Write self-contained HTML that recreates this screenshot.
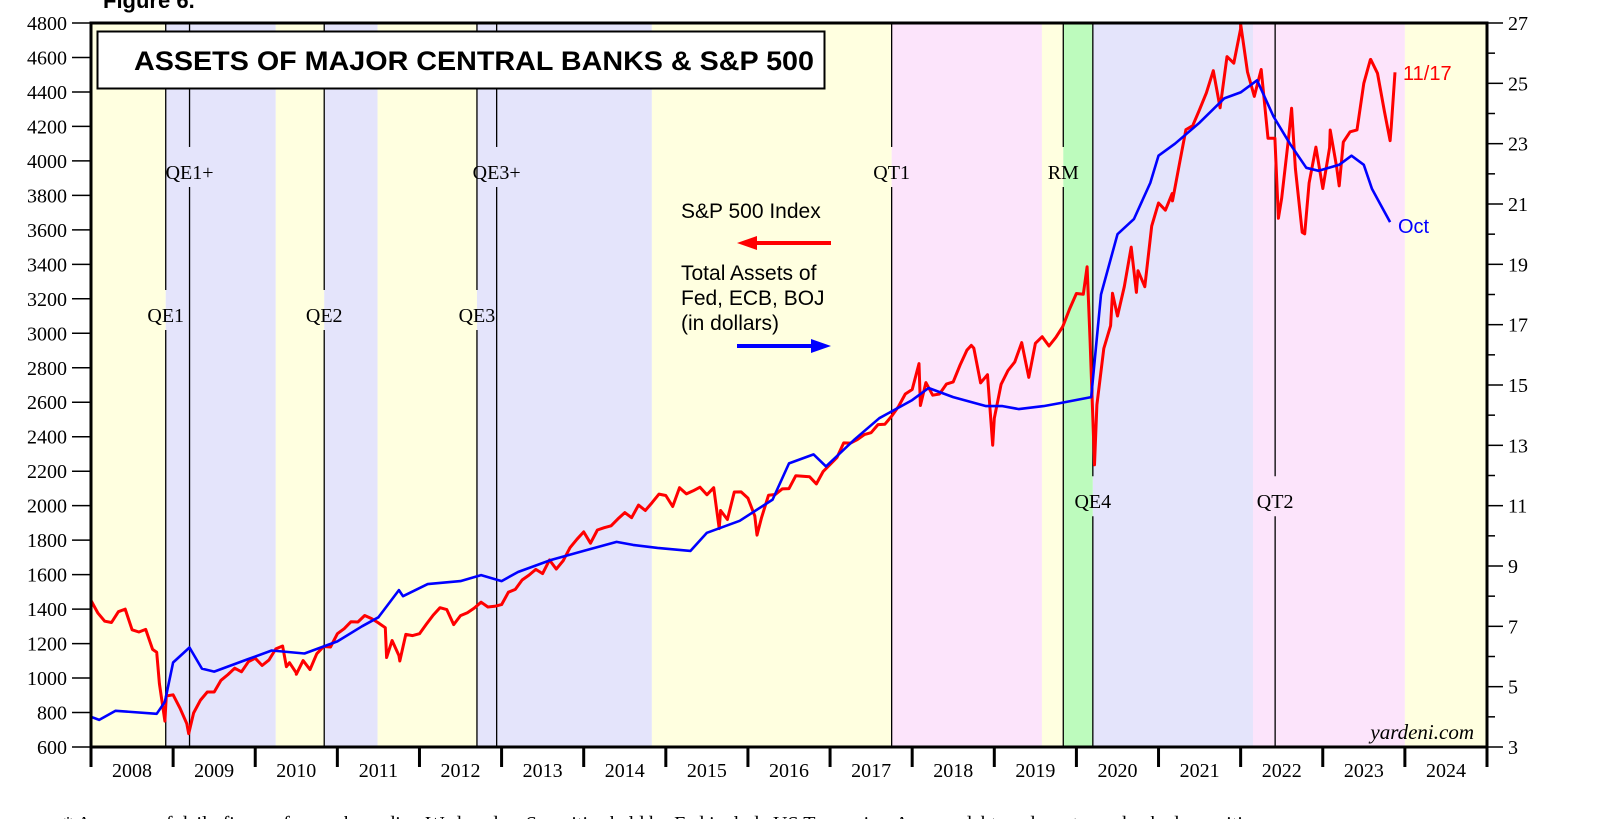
<!DOCTYPE html>
<html><head><meta charset="utf-8">
<style>
html,body{margin:0;padding:0;background:#fff;width:1600px;height:819px;overflow:hidden}
svg{display:block}
.serif{font-family:"Liberation Serif",serif}
.sans{font-family:"Liberation Sans",sans-serif}
</style></head>
<body>
<svg id="chart" width="1600" height="819" viewBox="0 0 1600 819">
<g id="bands"></g>
<g id="vlines"></g>
<g id="plabels"></g>
<g id="series"></g>
<g id="axes"></g>
<text x="103" y="8" class="sans" font-size="22" font-weight="bold">Figure 6.</text>
<rect x="97.5" y="31.5" width="727" height="57" fill="#fff" stroke="#000" stroke-width="2"/>
<text x="134" y="70" class="sans" font-size="27" font-weight="bold" textLength="680" lengthAdjust="spacingAndGlyphs">ASSETS OF MAJOR CENTRAL BANKS &amp; S&amp;P 500</text>
<g>
<text x="681" y="218" class="sans" font-size="21">S&amp;P 500 Index</text>
<line x1="831" y1="243" x2="752" y2="243" stroke="#f00" stroke-width="4"/>
<polygon points="737,243 757,236 757,250" fill="#f00"/>
<text x="681" y="280" class="sans" font-size="21">Total Assets of</text>
<text x="681" y="305" class="sans" font-size="21">Fed, ECB, BOJ</text>
<text x="681" y="330" class="sans" font-size="21">(in dollars)</text>
<line x1="737" y1="346" x2="816" y2="346" stroke="#00f" stroke-width="4"/>
<polygon points="831,346 811,339 811,353" fill="#00f"/>
</g>
<text x="1403" y="80" class="sans" font-size="20" fill="#f00">11/17</text>
<text x="1398" y="233" class="sans" font-size="20" fill="#00f">Oct</text>
<text x="1474" y="739" text-anchor="end" class="serif" font-size="21" font-style="italic">yardeni.com</text>
<text x="63" y="830" class="serif" font-size="20">*   Averages of daily figures for weeks ending Wednesday. Securities held by Fed include US Treasuries, Agency debt, and mortgage-backed securities.</text>
</svg>
<script>
// ---- data ----
const bandStarts = [2008, 2008.91, 2010.25, 2010.84, 2011.49, 2012.70, 2014.83, 2017.75, 2019.58, 2019.84, 2020.20, 2022.15, 2024.0];
const bandEnds   = [2008.91, 2010.25, 2010.84, 2011.49, 2012.70, 2014.83, 2017.75, 2019.58, 2019.84, 2020.20, 2022.15, 2024.0, 2025];
const bandKinds  = ['y','l','y','l','y','l','y','p','y','g','l','p','y'];
const policyNames = ['QE1','QE1+','QE2','QE3','QE3+','QT1','RM','QE4','QT2'];
const policyDates = [2008.91, 2009.20, 2010.84, 2012.70, 2012.94, 2017.75, 2019.84, 2020.20, 2022.42];
const policyLabelVals = [3100, 3930, 3100, 3100, 3930, 3930, 3930, 2020, 2020];
const leftTicks = [600,800,1000,1200,1400,1600,1800,2000,2200,2400,2600,2800,3000,3200,3400,3600,3800,4000,4200,4400,4600,4800];
const rightTicks = [3,5,7,9,11,13,15,17,19,21,23,25,27];
const yearLabels = ['2008','2009','2010','2011','2012','2013','2014','2015','2016','2017','2018','2019','2020','2021','2022','2023','2024'];
const spMonthly = [
1378,1330,1322,1385,1400,1280,1267,1282,1166,968,896,903,
825,735,797,872,919,919,987,1020,1057,1036,1095,1115,
1073,1104,1169,1186,1089,1030,1101,1049,1141,1183,1180,1257,
1286,1327,1325,1363,1345,1320,1292,1218,1131,1253,1246,1257,
1312,1365,1408,1397,1310,1362,1379,1406,1440,1412,1416,1426,
1498,1514,1569,1597,1630,1606,1685,1632,1681,1756,1805,1848,
1782,1859,1872,1883,1923,1960,1930,2003,1972,2018,2067,2059,
1995,2104,2068,2086,2107,2063,2104,1972,1920,2079,2080,2044,
1940,1932,2060,2065,2097,2099,2174,2171,2168,2126,2199,2239,
2279,2364,2363,2384,2412,2423,2470,2472,2519,2575,2648,2674,
2824,2714,2641,2648,2705,2718,2816,2902,2914,2712,2760,2507,
2704,2784,2834,2946,2752,2942,2980,2926,2977,3038,3141,3231,
3226,2954,2585,2912,3044,3100,3271,3500,3363,3270,3622,3756,
3714,3811,3973,4181,4204,4298,4395,4523,4308,4605,4567,4766,
4516,4374,4530,4132,4132,3785,4130,3955,3586,3872,4080,3840,
4077,3970,4109,4169,4180,4450,4589,4508,4288,4194,4514];
const spExtraDates = [2008.0, 2008.8, 2008.9, 2009.19, 2010.38, 2010.5, 2011.6, 2011.76, 2015.65, 2016.11, 2018.1, 2018.72, 2018.98, 2019.42, 2020.13, 2020.22, 2020.44, 2020.73, 2021.17, 2022.0, 2022.46, 2022.62, 2022.78, 2023.09, 2023.2, 2023.58, 2023.82];
const spExtraVals  = [1450, 1150, 750, 677, 1066, 1022, 1119, 1099, 1867, 1829, 2581, 2930, 2351, 2744, 3386, 2237, 3232, 3237, 3768, 4796, 3667, 4305, 3577, 4179, 3855, 4588, 4117];
const assetDates = [2008.0,2008.1,2008.3,2008.8,2008.9,2009.0,2009.2,2009.35,2009.5,2009.9,2010.2,2010.6,2011.0,2011.3,2011.5,2011.75,2011.8,2012.1,2012.5,2012.75,2013.0,2013.2,2013.6,2014.0,2014.4,2014.6,2014.9,2015.3,2015.5,2015.9,2016.3,2016.5,2016.8,2016.95,2017.3,2017.6,2018.0,2018.2,2018.5,2018.9,2019.1,2019.3,2019.6,2019.8,2020.18,2020.3,2020.5,2020.7,2020.9,2021.0,2021.2,2021.5,2021.8,2022.0,2022.2,2022.4,2022.6,2022.8,2022.95,2023.2,2023.35,2023.5,2023.6,2023.7,2023.82];
const assetVals  = [4.0,3.9,4.2,4.1,4.5,5.8,6.3,5.6,5.5,5.9,6.2,6.1,6.5,7.0,7.3,8.2,8.0,8.4,8.5,8.7,8.5,8.8,9.2,9.5,9.8,9.7,9.6,9.5,10.1,10.5,11.2,12.4,12.7,12.3,13.2,13.9,14.5,14.9,14.6,14.3,14.3,14.2,14.3,14.4,14.6,18.0,20.0,20.5,21.7,22.6,23.0,23.7,24.5,24.7,25.1,23.9,23.0,22.2,22.1,22.3,22.6,22.3,21.5,21.0,20.4];

// ---- scales ----
const X0=91, X1=1487, Y0=23, Y1=747;
const xs = t => X0 + (t-2008)/17*(X1-X0);
const yl = v => Y1 - (v-600)/4200*(Y1-Y0);
const yr = v => Y1 - (v-3)/24*(Y1-Y0);
const NS='http://www.w3.org/2000/svg';
function mk(tag, attrs, parent){const e=document.createElementNS(NS,tag);for(const k in attrs)e.setAttribute(k,attrs[k]);parent.appendChild(e);return e;}
const colors={y:'#ffffe0',l:'#e4e4fb',p:'#fce4fb',g:'#bdfbbd'};

const gB=document.getElementById('bands');
bandStarts.forEach((s,i)=>{
  const r=mk('rect',{x:xs(s),y:Y0,width:Math.min(xs(bandEnds[i]),X1)-xs(s),height:Y1-Y0,fill:colors[bandKinds[i]]},gB);
  
  
});

const gV=document.getElementById('vlines'), gP=document.getElementById('plabels');
policyNames.forEach((n,i)=>{
  const x=xs(policyDates[i]), ly=yl(policyLabelVals[i]);
  const l1=mk('line',{x1:x,y1:Y0,x2:x,y2:ly-26,stroke:'#000','stroke-width':1.3},gV);
  
  
  const l2=mk('line',{x1:x,y1:ly+14,x2:x,y2:Y1,stroke:'#000','stroke-width':1.3},gV);
  
  
  const t=mk('text',{x:x,y:ly+6,'text-anchor':'middle','font-size':20,class:'serif'},gP);
  t.textContent=n;
  
  
});

// S&P series
let sp=spMonthly.map((v,i)=>[2008+(i+1)/12,v]);
spExtraDates.forEach((d,i)=>sp.push([d,spExtraVals[i]]));
sp[spMonthly.length-1][0]=2023+10.55/12;
sp.sort((a,b)=>a[0]-b[0]);
const gS=document.getElementById('series');
const spPath=mk('polyline',{points:sp.map(p=>xs(p[0]).toFixed(1)+','+yl(p[1]).toFixed(1)).join(' '),fill:'none',stroke:'#f00','stroke-width':3,'stroke-linejoin':'round'},gS);


const aPath=mk('polyline',{points:assetDates.map((d,i)=>xs(d).toFixed(1)+','+yr(assetVals[i]).toFixed(1)).join(' '),fill:'none',stroke:'#00f','stroke-width':2.6,'stroke-linejoin':'round'},gS);



// axes
const gA=document.getElementById('axes');
const frame=mk('rect',{x:X0,y:Y0,width:X1-X0,height:Y1-Y0,fill:'none',stroke:'#000','stroke-width':3},gA);


leftTicks.forEach(v=>{
  const y=yl(v);
  const tk=mk('line',{x1:72,y1:y,x2:X0,y2:y,stroke:'#000','stroke-width':1.5},gA);
  
  
  const t=mk('text',{x:67,y:y+7,'text-anchor':'end','font-size':20,class:'serif'},gA);
  t.textContent=v;
  
  
});
for(let v=4;v<27;v+=2){
  const y=yr(v);
  const tk=mk('line',{x1:X1,y1:y,x2:X1+8,y2:y,stroke:'#000','stroke-width':1.5},gA);
  
  
}
rightTicks.forEach(v=>{
  const y=yr(v);
  const tk=mk('line',{x1:X1,y1:y,x2:X1+16,y2:y,stroke:'#000','stroke-width':1.5},gA);
  
  
  const t=mk('text',{x:X1+21,y:y+7,'font-size':20,class:'serif'},gA);
  t.textContent=v;
  
  
});
for(let i=0;i<=17;i++){
  const x=xs(2008+i);
  const tk=mk('line',{x1:x,y1:Y1,x2:x,y2:767,stroke:'#000','stroke-width':3},gA);
  
  
}
yearLabels.forEach((lab,i)=>{
  const t=mk('text',{x:xs(2008.5+i),y:777,'text-anchor':'middle','font-size':20,class:'serif'},gA);
  t.textContent=lab;
  
  
});
</script>
</body></html>
